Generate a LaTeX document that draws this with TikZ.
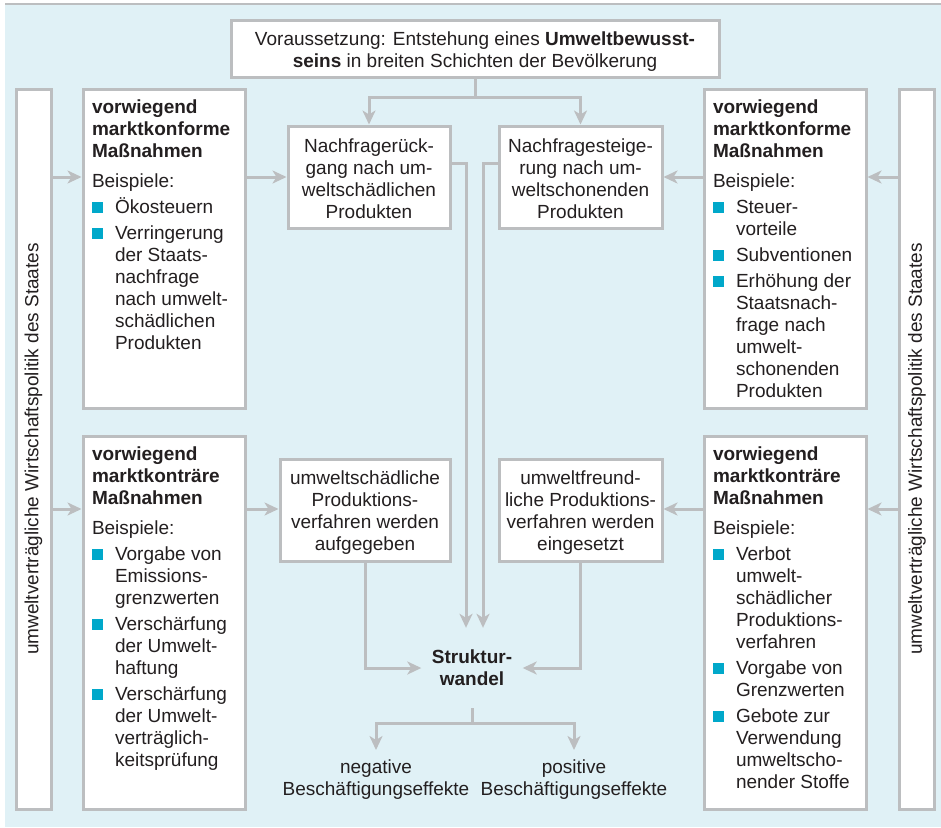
\documentclass[tikz,border=0pt]{standalone}
\usepackage{fontspec}
\setmainfont{Liberation Sans}
\usetikzlibrary{arrows.meta,calc}
\definecolor{bg}{RGB}{224,241,246}
\definecolor{ln}{RGB}{188,190,192}
\definecolor{bul}{RGB}{0,168,202}
\definecolor{txt}{RGB}{35,31,32}
\newcommand\fs{\fontsize{19}{22}\selectfont\color{txt}}
\newcommand\bsq{\makebox[23pt][l]{\textcolor{bul}{\rule{11pt}{11pt}}}}
\newcommand\itm[1]{\par\vspace{4pt}\hangindent=23pt\hangafter=1\noindent\bsq{\let\\\newline #1}\par}
\newcommand\lft[3]{\parbox[c][#1][t]{#2}{\fs\raggedright\leftskip=9pt\rule{0pt}{24pt}#3}}
\newcommand\ctr[4]{\parbox[c][#1][t]{#2}{\fs\centering\rule{0pt}{#3}#4}}
\tikzset{
  box/.style={draw=ln, line width=3pt, fill=white, inner sep=0pt},
  conn/.style={draw=ln, line width=3pt},
  arr/.style={conn, -{Stealth[length=14pt,width=13pt,inset=4pt]}},
  lbl/.style={font=\fs, align=center, inner sep=0pt}
}
\begin{document}
\begin{tikzpicture}[x=1pt,y=-1pt]
\useasboundingbox (0,0) rectangle (941,827);
\fill[bg] (5,5) rectangle (941,827);
\draw[ln, line width=2pt] (5,4) -- (941,4);

% top box
\node[box] (top) at (475,48.5) {\ctr{57pt}{488pt}{25pt}{Voraussetzung: Entstehung eines \textbf{Umweltbewusst-}\\\textbf{seins} in breiten Schichten der Bevölkerung}};

% vertical side boxes
\node[box, rotate=90, minimum width=720pt, minimum height=35pt, font=\fs] (LV) at (33.5,449) {umweltverträgliche Wirtschaftspolitik des Staates};
\node[box, rotate=90, minimum width=720pt, minimum height=35pt, font=\fs] (RV) at (917,449) {umweltverträgliche Wirtschaftspolitik des Staates};

% left measure boxes
\node[box] (LT) at (164,248.5) {\lft{319pt}{162pt}{\textbf{vorwiegend}\\\textbf{marktkonforme}\\\textbf{Maßnahmen}\par\vspace{8pt}Beispiele:
\itm{Ökosteuern}
\itm{Verringerung\\der Staats-\\nachfrage\\nach umwelt-\\schädlichen\\Produkten}}};

\node[box] (LB) at (164,622.5) {\lft{373pt}{162pt}{\textbf{vorwiegend}\\\textbf{marktkonträre}\\\textbf{Maßnahmen}\par\vspace{8pt}Beispiele:
\itm{Vorgabe von\\Emissions-\\grenzwerten}
\itm{Verschärfung\\der Umwelt-\\haftung}
\itm{Verschärfung\\der Umwelt-\\verträglich-\\keitsprüfung}}};

% right measure boxes
\node[box] (RT) at (785,248.5) {\lft{319pt}{162pt}{\textbf{vorwiegend}\\\textbf{marktkonforme}\\\textbf{Maßnahmen}\par\vspace{8pt}Beispiele:
\itm{Steuer-\\vorteile}
\itm{Subventionen}
\itm{Erhöhung der\\Staatsnach-\\frage nach\\umwelt-\\schonenden\\Produkten}}};

\node[box] (RB) at (785,622.5) {\lft{373pt}{162pt}{\textbf{vorwiegend}\\\textbf{marktkonträre}\\\textbf{Maßnahmen}\par\vspace{8pt}Beispiele:
\itm{Verbot\\umwelt-\\schädlicher\\Produktions-\\verfahren}
\itm{Vorgabe von\\Grenzwerten}
\itm{Gebote zur\\Verwendung\\umweltscho-\\nender Stoffe}}};

% centre boxes
\node[box] (CTL) at (369,177) {\ctr{102pt}{162pt}{26pt}{Nachfragerück-\\gang nach um-\\weltschädlichen\\Produkten}};
\node[box] (CTR) at (580.5,177) {\ctr{102pt}{163pt}{26pt}{Nachfragesteige-\\rung nach um-\\weltschonenden\\Produkten}};
\node[box] (CBL) at (365,510) {\ctr{102pt}{170pt}{25pt}{umweltschädliche\\Produktions-\\verfahren werden\\aufgegeben}};
\node[box] (CBR) at (580.5,510) {\ctr{102pt}{163pt}{25pt}{umweltfreund-\\liche Produktions-\\verfahren werden\\eingesetzt}};

% Strukturwandel and effects
\node[lbl, minimum width=101pt, minimum height=80pt] (SW) at (472,668) {\textbf{Struktur-}\\\textbf{wandel}};
\node[lbl, anchor=north, inner ysep=10pt] (neg) at (376,750) {negative\\Beschäftigungseffekte};
\node[lbl, anchor=north, inner ysep=10pt] (pos) at (574,750) {positive\\Beschäftigungseffekte};

% helper coordinates
\coordinate (ya) at (0,177);
\coordinate (yb) at (0,509);
\coordinate (yc) at (0,163);
\coordinate (j1) at (475,97);

% connectors from top box
\draw[conn] (top.south) -- (j1);
\draw[arr] (j1) -| (CTL.north);
\draw[arr] (j1) -| (CTR.north);

% side arrows
\draw[arr] (LV.south |- ya) -- (LT.west |- ya);
\draw[arr] (LT.east |- ya) -- (CTL.west |- ya);
\draw[arr] (RV.north |- ya) -- (RT.east |- ya);
\draw[arr] (RT.west |- ya) -- (CTR.east |- ya);
\draw[arr] (LV.south |- yb) -- (LB.west |- yb);
\draw[arr] (LB.east |- yb) -- (CBL.west |- yb);
\draw[arr] (RV.north |- yb) -- (RB.east |- yb);
\draw[arr] (RB.west |- yb) -- (CBR.east |- yb);

% to Strukturwandel
\draw[arr] (CTL.east |- yc) -| ($(SW.north)+(-6,0)$);
\draw[arr] (CTR.west |- yc) -| ($(SW.north)+(11,0)$);
\draw[arr] (CBL.south) |- (SW.west);
\draw[arr] (CBR.south) |- (SW.east);

% to effects
\draw[conn] (SW.south) -- ++(0,15) coordinate (j2);
\draw[arr] (j2) -| (neg.north);
\draw[arr] (j2) -| (pos.north);
\end{tikzpicture}
\end{document}
